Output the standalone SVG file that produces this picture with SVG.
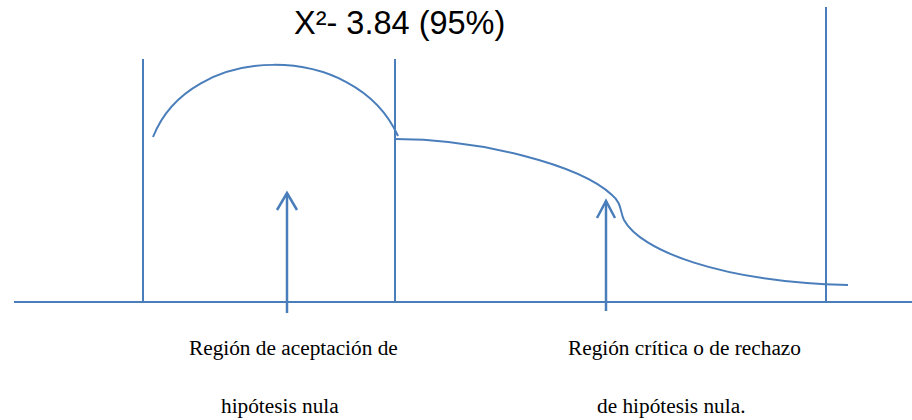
<svg xmlns="http://www.w3.org/2000/svg" width="912" height="420" viewBox="0 0 912 420">
<style>
.ln{fill:none;stroke:#4A7EBB;stroke-width:2;stroke-linecap:butt;stroke-linejoin:miter}
.ar{fill:none;stroke:#4A7EBB;stroke-width:2.5}
.lbl{font-family:"Liberation Serif","Times New Roman",serif;font-size:21.3px;fill:#000}
.ttl{font-family:"Liberation Sans",Arial,sans-serif;font-size:32.5px;fill:#000}
</style>
<rect width="912" height="420" fill="#fff"/>
<g id="axes">
<line class="ln" x1="14" y1="302" x2="912" y2="302" stroke-width="2.5"/>
<line class="ln" x1="143" y1="59" x2="143" y2="302"/>
<line class="ln" x1="395" y1="59" x2="395" y2="302"/>
<line class="ln" x1="826" y1="7" x2="826" y2="302"/>
</g>
<g id="curves">
<path class="ln" d="M153,137 C190,42 355,40 398,136"/>
<path class="ln" d="M395,139 C480,139 580,165 612,195 C622,203 620,212 624,220 C640,250 720,282 848,285"/>
</g>
<g id="connectors">
<line class="ar" x1="287" y1="313" x2="287" y2="193"/>
<polyline class="ar" points="277,210 287,193 297,210"/>
<line class="ar" x1="606" y1="311" x2="606" y2="201"/>
<polyline class="ar" points="597,218 606,201 615,218"/>
</g>
<g id="title"><text class="ttl" x="294" y="34">X²- 3.84 (95%)</text></g>
<g id="label-aceptacion">
<text class="lbl" x="189" y="355">Región de aceptación de</text>
<text class="lbl" x="221" y="413">hipótesis nula</text>
</g>
<g id="label-critica">
<text class="lbl" x="568" y="355">Región crítica o de rechazo</text>
<text class="lbl" x="597" y="413">de hipótesis nula.</text>
</g>
</svg>
